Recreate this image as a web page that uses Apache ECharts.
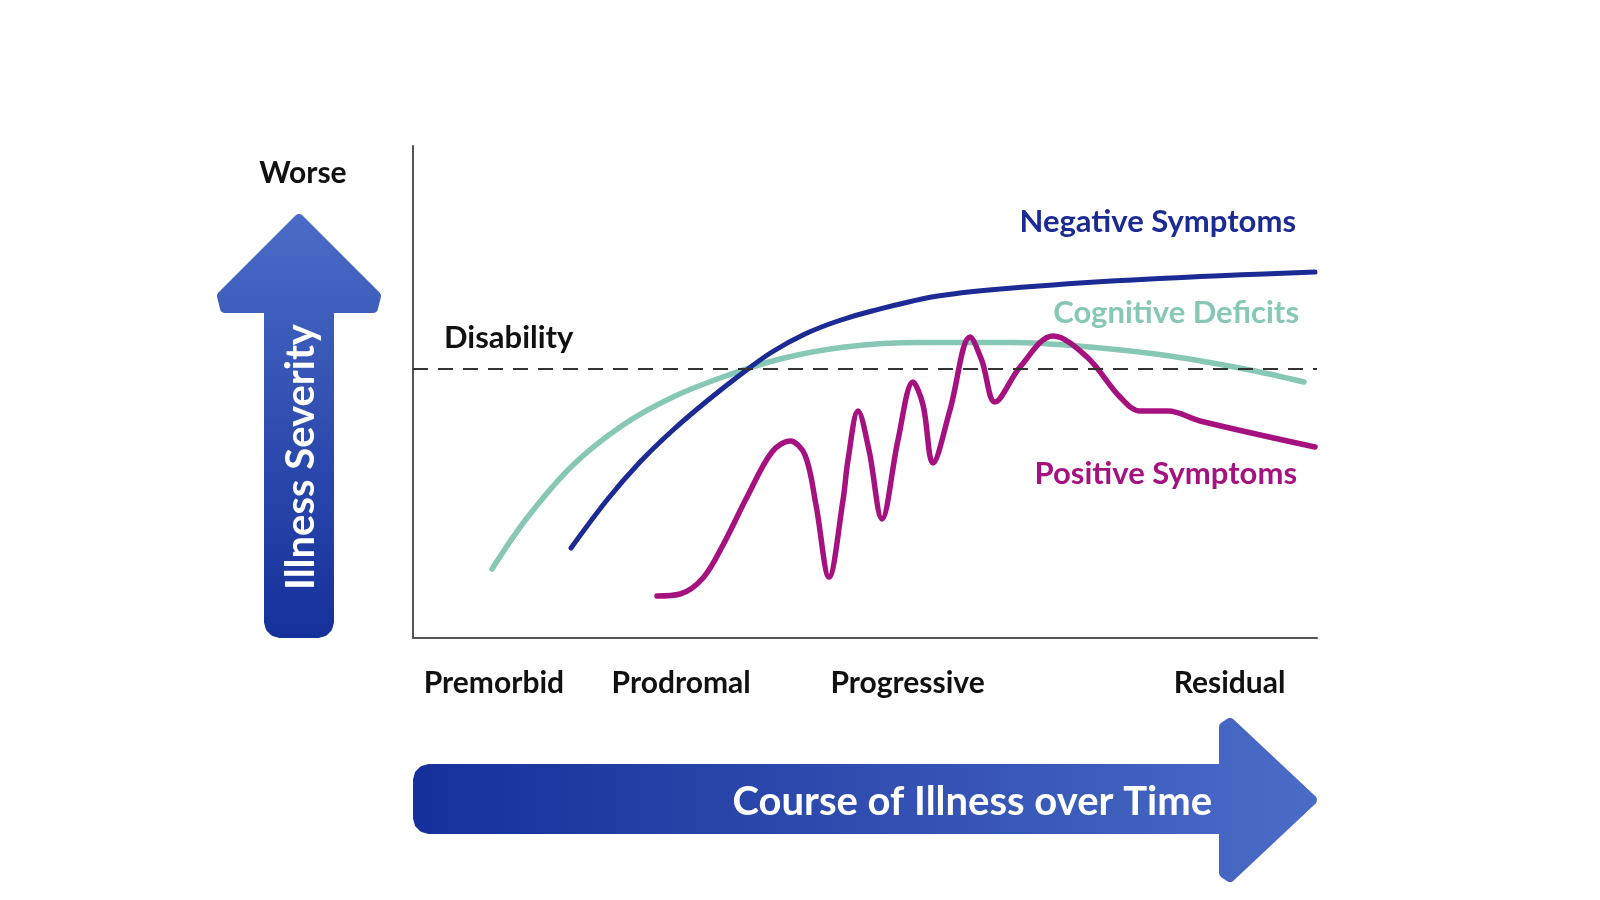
<!DOCTYPE html>
<html>
<head>
<meta charset="utf-8">
<script src="https://cdn.jsdelivr.net/npm/echarts@6/dist/echarts.min.js"></script>
<style>
html,body{margin:0;padding:0;background:#fff;}
#chart{width:1600px;height:900px;}
</style>
</head>
<body>
<div id="chart"></div>
<script>
// ---- data (x: course of illness 0-100, y: illness severity 0-100) ----
const stageLabels = ['Premorbid', 'Prodromal', 'Progressive', 'Residual'];
const seriesNames = ['Negative Symptoms', 'Cognitive Deficits', 'Positive Symptoms'];
const disabilityLevel = 54.7;

const negativeSymptoms = [
  [17.48,18.29],[21.46,28.05],[25.11,35.77],[28.76,42.28],[32.52,48.17],[36.17,53.46],
  [39.71,58.13],[43.36,61.79],[47.01,64.43],[50.77,66.46],[58.07,69.51],[67.70,71.34],
  [81.53,72.97],[99.78,74.39]
];
const cognitiveDeficits = [
  [8.74,14.02],[12.61,24.39],[17.70,35.16],[23.23,43.29],[28.76,48.98],[34.29,53.05],
  [40.60,56.71],[47.79,59.15],[56.08,60.06],[66.04,60.06],[74.89,59.15],[83.74,57.32],
  [92.59,54.47],[98.56,52.03]
];
const positiveSymptoms = [
  [26.99,8.54],[29.54,8.94],[32.08,12.20],[34.29,18.90],[37.06,29.07],[39.71,37.80],
  [41.70,40.04],[43.36,37.20],[44.58,27.03],[46.02,12.40],[47.57,28.05],[48.12,36.18],
  [49.23,46.14],[50.44,38.21],[51.88,24.19],[53.65,40.24],[55.31,52.03],[56.42,47.36],
  [57.52,35.57],[59.40,46.34],[61.62,61.18],[62.94,56.30],[64.38,47.97],[67.15,55.08],
  [70.80,61.38],[74.56,57.11],[78.21,48.98],[80.42,46.14],[83.52,46.14],[87.06,44.11],
  [99.78,38.82]
];

// ---- layout / style ----
const stageLabelX = [8.95, 29.66, 54.71, 90.33];   // label centres along x (data units)
const colors = ['#1B2B93', '#86C8B5', '#A5127F'];
const FONT = 'Lato, "Noto Sans", sans-serif';

const chart = echarts.init(document.getElementById('chart'), null, {renderer: 'canvas'});

function lineSeries(name, data, color, width) {
  return {
    name: name, type: 'line', data: data, smooth: 0.35, symbol: 'none',
    lineStyle: {color: color, width: width, cap: 'round', join: 'round'}, z: 3
  };
}

const option = {
  backgroundColor: '#ffffff',
  animation: false,
  grid: {left: 413, right: 283, top: 146, bottom: 262},
  xAxis: {
    type: 'value', min: 0, max: 100,
    axisLine: {show: true, onZero: false, lineStyle: {color: '#555', width: 2}},
    axisTick: {show: false}, axisLabel: {show: false}, splitLine: {show: false}
  },
  yAxis: {
    type: 'value', min: 0, max: 100,
    axisLine: {show: true, onZero: false, lineStyle: {color: '#555', width: 2}},
    axisTick: {show: false}, axisLabel: {show: false}, splitLine: {show: false}
  },
  series: [
    Object.assign(lineSeries(seriesNames[1], cognitiveDeficits, colors[1], 5.5), {
      markLine: {
        silent: true, symbol: 'none', label: {show: false},
        lineStyle: {color: '#333333', width: 2, type: [15, 10]},
        data: [{yAxis: disabilityLevel}]
      }
    }),
    lineSeries(seriesNames[0], negativeSymptoms, colors[0], 5),
    lineSeries(seriesNames[2], positiveSymptoms, colors[2], 5.5)
  ]
};
chart.setOption(option);

// ---- decorations ----
const upGrad = {type: 'linear', x: 0, y: 213, x2: 0, y2: 638, global: true,
  colorStops: [{offset: 0, color: '#4A6CC6'}, {offset: 1, color: '#15309A'}]};
const rightGrad = {type: 'linear', x: 413, y: 0, x2: 1318, y2: 0, global: true,
  colorStops: [{offset: 0, color: '#15309A'}, {offset: 1, color: '#4A6CC6'}]};

const upArrowPts = [
  [299,219],[376,296],[373,308],[329,308],[329,622],[327.5,627.5],[323.5,631.5],[318,633],
  [280,633],[274.5,631.5],[270.5,627.5],[269,622],[269,308],[225,308],[222,296]
];
const rightArrowPts = [
  [429,769],[1224,769],[1224,727],[1230,723],[1312,800],[1230,877],[1224,873],[1224,829],
  [429,829],[423.5,827.5],[419.5,823.5],[418,818],[418,780],[419.5,774.5],[423.5,770.5]
];

function txt(text, x, y, size, color, align, extra) {
  return Object.assign({
    type: 'text', x: x, y: y, z: 10,
    style: {
      text: text, fill: color, fontSize: size, fontFamily: FONT, fontWeight: 'bold',
      align: align, textAlign: align, verticalAlign: 'middle', textVerticalAlign: 'middle'
    }
  }, extra || {});
}

const graphics = [
  {type: 'polygon', shape: {points: upArrowPts}, z: 1,
   style: {fill: upGrad, stroke: upGrad, lineWidth: 10, lineJoin: 'round'}},
  {type: 'polygon', shape: {points: rightArrowPts}, z: 1,
   style: {fill: rightGrad, stroke: rightGrad, lineWidth: 10, lineJoin: 'round'}},
  txt('Illness Severity', 301, 457, 40, '#ffffff', 'center', {rotation: Math.PI / 2}),
  txt('Course of Illness over Time', 1212, 802, 40, '#ffffff', 'right'),
  txt('Worse', 303, 173, 30, '#111111', 'center'),
  txt('Disability', 444, 338, 31, '#111111', 'left'),
  txt(seriesNames[0], 1296, 222, 31, colors[0], 'right'),
  txt(seriesNames[1], 1299, 313, 31, '#86C8B5', 'right'),
  txt(seriesNames[2], 1297, 474, 31, colors[2], 'right')
];
const axisY = chart.convertToPixel({gridIndex: 0}, [0, 0])[1];
stageLabels.forEach(function (s, i) {
  const px = chart.convertToPixel({gridIndex: 0}, [stageLabelX[i], 0]);
  graphics.push(txt(s, px[0], axisY + 45, 30, '#111111', 'center'));
});
chart.setOption({graphic: graphics});
</script>
</body>
</html>
